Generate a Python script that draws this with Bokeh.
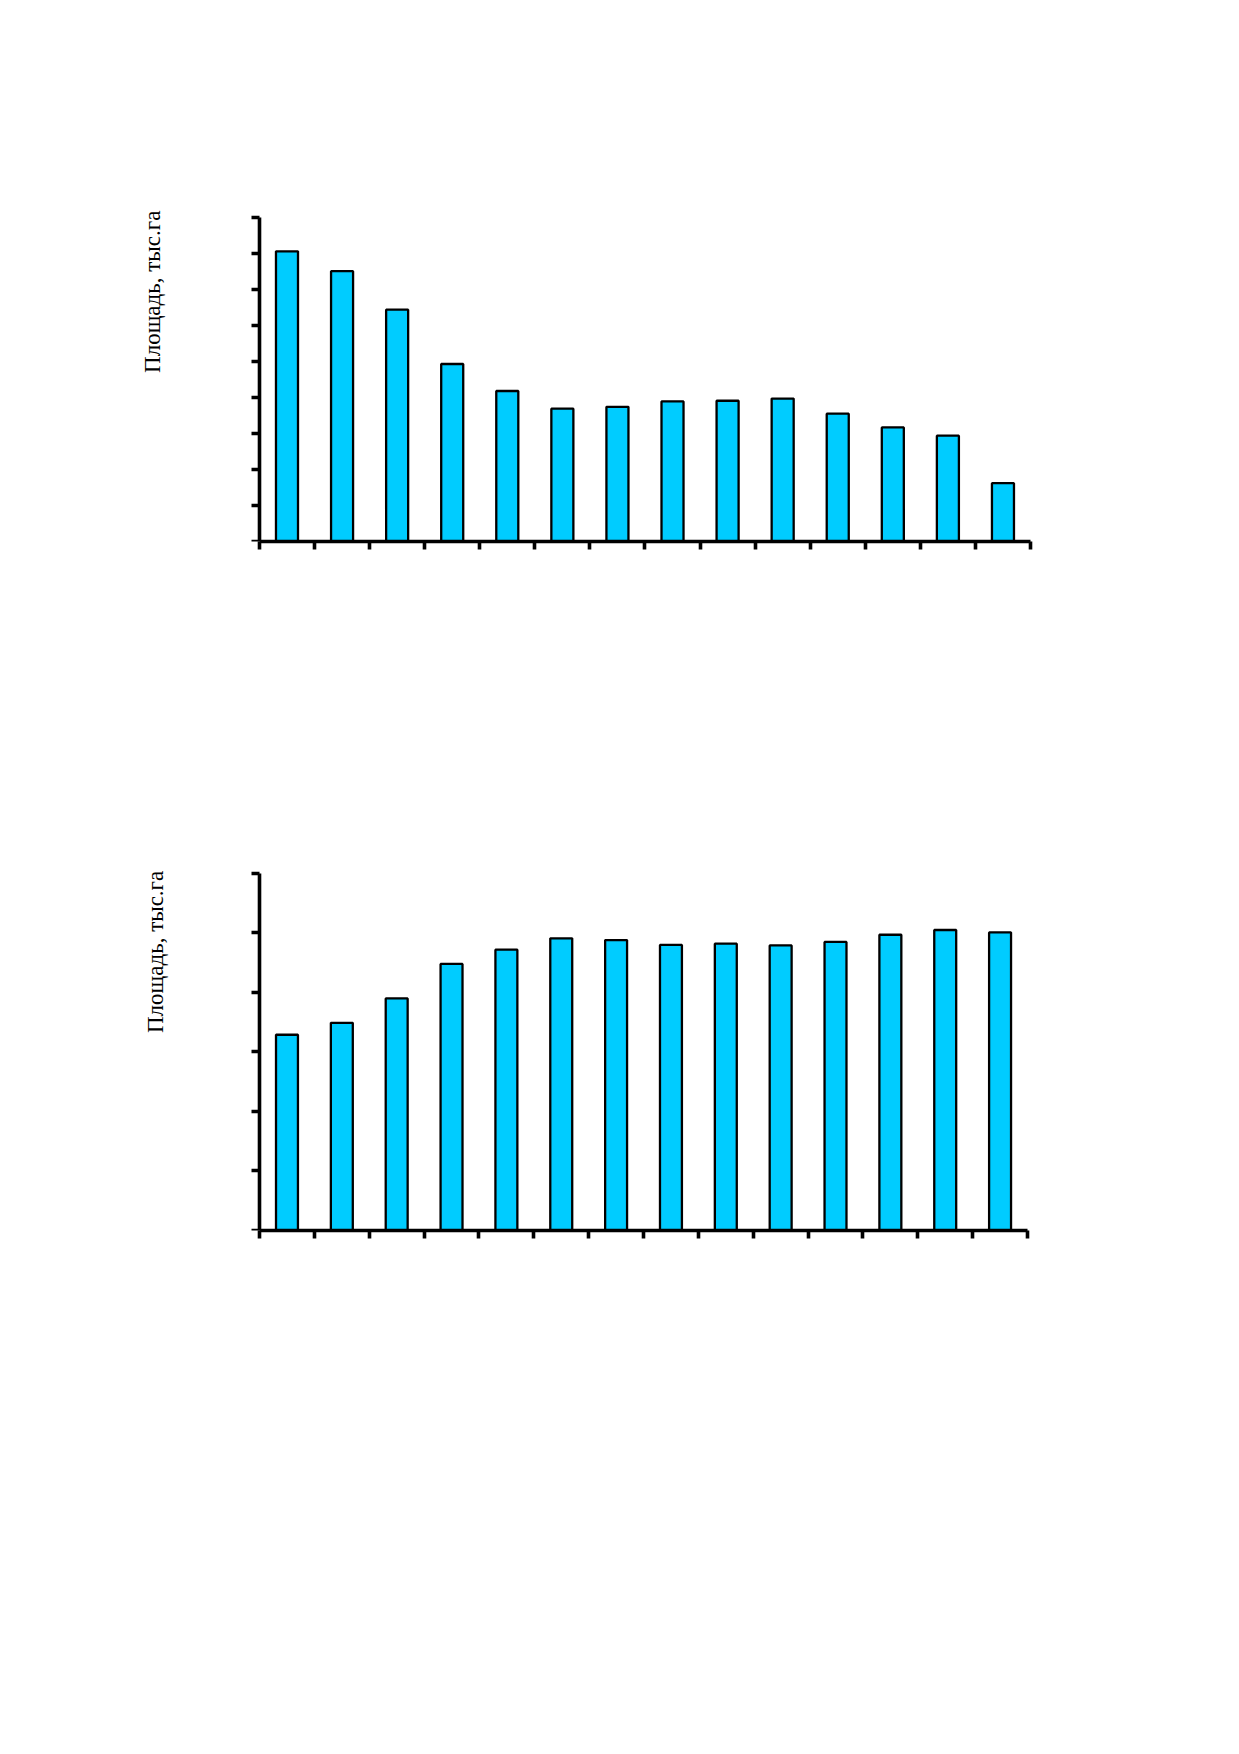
import math
from bokeh.plotting import figure
from bokeh.models import Range1d, FixedTicker, ColumnDataSource
from bokeh.core.properties import value
from bokeh.layouts import column
from bokeh.embed import file_html
from bokeh.resources import INLINE

# ---- data ----
categories = list(range(1, 15))
top_values = [8.06, 7.51, 6.44, 4.93, 4.18, 3.69, 3.74, 3.89, 3.91, 3.97, 3.55, 3.17, 2.94, 1.62]
bottom_values = [3.29, 3.49, 3.90, 4.48, 4.72, 4.91, 4.88, 4.80, 4.82, 4.79, 4.85, 4.97, 5.05, 5.01]
top_ymax = 9
bottom_ymax = 6
y_label = "Площадь, тыс.га"

BAR_COLOR = "#00CCFF"


def make_chart(values, ymax, border_top, frame_w, frame_h, x_start, y_end,
               label_x, label_y):
    n = len(categories)
    p = figure(width=1100, height=border_top + frame_h + 100,
               frame_width=frame_w, frame_height=frame_h,
               min_border_left=120, min_border_top=border_top,
               min_border_bottom=100, min_border_right=60,
               x_range=Range1d(x_start, n), y_range=Range1d(0, y_end),
               output_backend="svg", toolbar_location=None)
    src = ColumnDataSource(dict(x=[c - 0.5 for c in categories], top=values))
    p.vbar(x="x", top="top", bottom=0, width=0.4, source=src,
           fill_color=BAR_COLOR, line_color="black", line_width=2.3)
    p.xgrid.visible = False
    p.ygrid.visible = False
    p.outline_line_color = None
    p.background_fill_color = "white"
    p.border_fill_color = "white"
    p.xaxis.ticker = FixedTicker(ticks=list(range(0, n + 1)))
    p.yaxis.ticker = FixedTicker(ticks=list(range(0, ymax + 1)))
    p.xaxis.bounds = (0, n)
    p.yaxis.bounds = (0, ymax)
    p.yaxis.fixed_location = 0
    for ax in (p.xaxis, p.yaxis):
        ax.axis_line_width = 3.6
        ax.axis_line_color = "black"
        ax.major_tick_line_width = 3.6
        ax.major_tick_line_color = "black"
        ax.major_tick_in = 0
        ax.major_tick_out = 8
        ax.minor_tick_line_color = None
        ax.major_label_text_font_size = "0px"
    p.xaxis.major_label_overrides = {i: "" for i in range(0, n + 1)}
    p.yaxis.major_label_overrides = {i: "" for i in range(0, ymax + 1)}
    p.text(x=[label_x], y=[label_y], text=[y_label], angle=math.pi / 2,
           text_align="right", text_baseline="middle",
           text_font=value("Liberation Serif"), text_font_size=value("23px"),
           text_color="black")
    return p


p1 = make_chart(top_values, top_ymax, 200, 910, 341, -2.523, 9.472, -1.943, 9.19)
p2 = make_chart(bottom_values, bottom_ymax, 860 - 641, 907, 370, -2.535, 6.218, -1.896, 6.046)

layout = column(p1, p2, spacing=0)
open("out.html", "w").write(file_html(layout, INLINE))
